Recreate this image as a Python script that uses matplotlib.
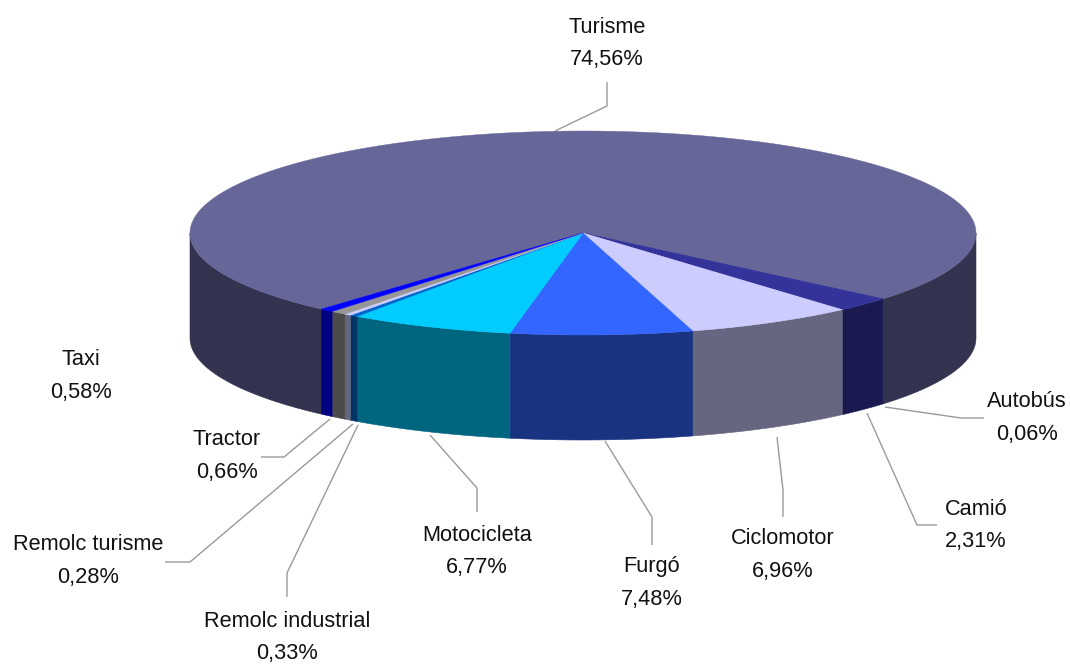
import numpy as np
import matplotlib
matplotlib.use('Agg')
import matplotlib.pyplot as plt
from matplotlib.patches import Polygon

plt.rcParams['font.family'] = ['Liberation Sans', 'DejaVu Sans']

categories = ['Turisme', 'Autobús', 'Camió', 'Ciclomotor', 'Furgó', 'Motocicleta',
              'Remolc industrial', 'Remolc turisme', 'Tractor', 'Taxi']
values = [74.56, 0.06, 2.31, 6.96, 7.48, 6.77, 0.33, 0.28, 0.66, 0.58]
value_labels = ['74,56%', '0,06%', '2,31%', '6,96%', '7,48%', '6,77%',
                '0,33%', '0,28%', '0,66%', '0,58%']
top_colors = ['#666699', '#333399', '#333399', '#ccccff', '#3366ff', '#00ccff',
              '#0066cc', '#ccccff', '#969696', '#0000ff']
side_colors = ['#333350', '#1a1a50', '#1a1a50', '#666680', '#1a3380', '#006680',
               '#003366', '#666680', '#4b4b4b', '#000080']

# label centres and leader lines, in pixels of the picture
label_pos = [(607, 43.5), (1027, 418), (976, 525.5), (783, 555), (652, 583), (477, 551.5),
             (287, 637.5), (88, 561), (227, 456), (81, 376)]
leaders = [[(555, 131), (607, 106), (607, 82)],
           [(885, 407), (961, 418), (984, 418)],
           [(867, 413), (917, 525), (937, 525)],
           [(777, 437), (783, 490), (783, 517)],
           [(605, 441), (652, 517), (652, 545)],
           [(430, 435), (477, 488), (477, 512)],
           [(358, 425), (287, 573), (287, 597)],
           [(353, 424), (190, 562), (165, 562)],
           [(330, 419), (284, 457), (261, 457)]]

cx, cy, rx, ry = 583, 233, 393, 102
depth = 105
end_first = 40.2  # where Turisme stops, degrees clockwise on screen


def rim(t_deg, dy=0):
    t = np.radians(t_deg)
    return np.column_stack([cx + rx * np.cos(t), cy + ry * np.sin(t) + dy])


fig = plt.figure(figsize=(10.7, 6.66), dpi=100)
ax = fig.add_axes([0, 0, 1, 1])
ax.set_xlim(0, 1070)
ax.set_ylim(666, 0)
ax.axis('off')

spans = np.array(values) / sum(values) * 360
ends = end_first - spans[0] + np.cumsum(spans)
starts = ends - spans

# outer wall, only the part that faces the viewer
for a, b, col in zip(starts, ends, side_colors):
    for lo, hi in [(0, 180), (-360, -180)]:
        a2, b2 = max(a, lo), min(b, hi)
        if b2 <= a2:
            continue
        t = np.linspace(a2, b2, 120)
        pts = np.vstack([rim(t), rim(t[::-1], depth)])
        ax.add_patch(Polygon(pts, closed=True, fc=col, ec=col, lw=0.4, zorder=2))

# top face
for a, b, col in zip(starts, ends, top_colors):
    t = np.linspace(a, b, 300)
    pts = np.vstack([[(cx, cy)], rim(t)])
    ax.add_patch(Polygon(pts, closed=True, fc=col, ec=col, lw=0.3, zorder=3))

for line in leaders:
    xs, ys = zip(*line)
    ax.plot(xs, ys, color='#9a9a9a', lw=1, zorder=1, solid_capstyle='butt')

for name, lab, (x, y) in zip(categories, value_labels, label_pos):
    ax.text(x, y, name + '\n' + lab, ha='center', va='center', fontsize=15.7,
            color='#111111', linespacing=1.72, zorder=4)

fig.savefig('out.png', dpi=100, facecolor='white')
